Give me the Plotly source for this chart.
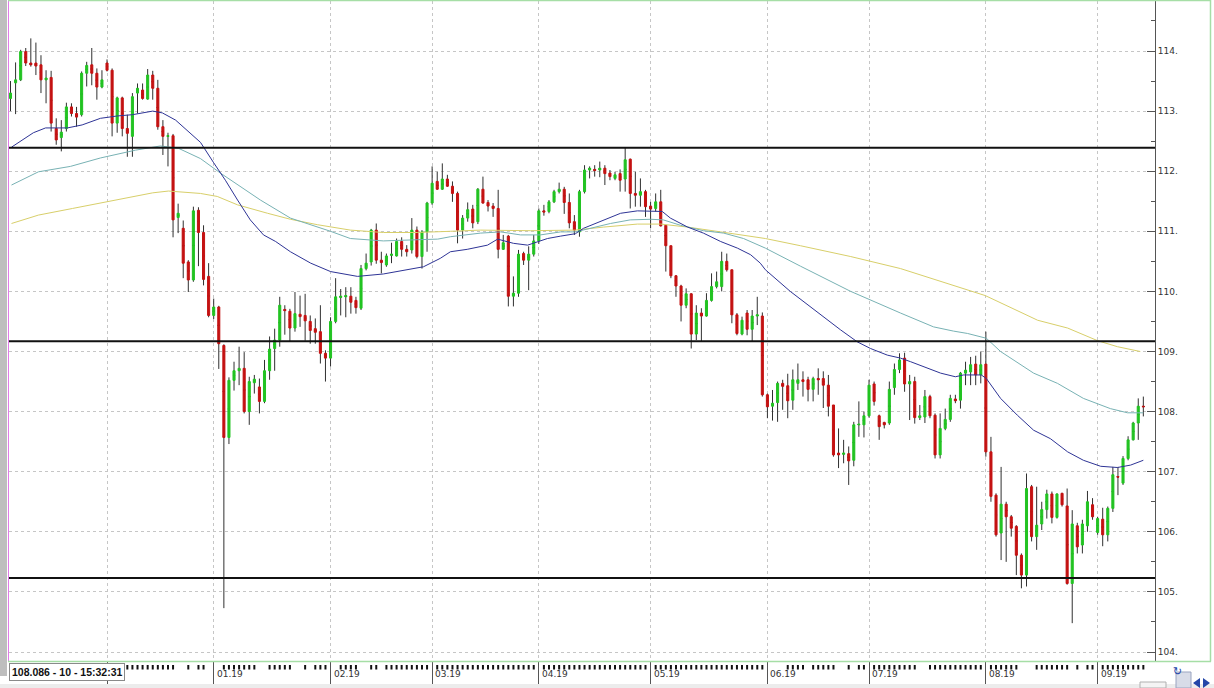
import plotly.graph_objects as go

# ---------------- data ----------------
ohlc = [
(113.21,113.50,113.00,113.30),(113.47,113.81,112.95,113.52),(113.52,114.02,113.50,113.99),(113.99,114.05,113.75,113.80),
(113.80,114.21,113.74,113.77),(113.80,114.14,113.60,113.75),(113.77,113.93,113.30,113.52),(113.52,113.68,113.13,113.55),
(113.56,113.67,112.66,112.80),(112.71,112.88,112.44,112.52),(112.56,112.85,112.33,112.65),(112.71,113.14,112.66,113.07),
(113.07,113.13,112.91,112.96),(112.96,113.07,112.74,112.90),(112.94,113.66,112.91,113.63),(113.63,113.82,113.41,113.76),
(113.77,114.05,113.43,113.63),(113.63,113.71,113.19,113.40),(113.40,113.68,113.38,113.52),(113.80,113.86,113.66,113.68),
(113.68,113.71,112.58,112.80),(112.80,113.24,112.64,113.22),(113.22,113.24,112.58,112.71),(112.71,112.94,112.24,112.63),
(112.58,113.30,112.24,113.24),(113.30,113.46,112.96,113.38),(113.35,113.46,113.19,113.21),(113.20,113.70,113.19,113.60),
(113.60,113.67,113.19,113.38),(113.38,113.52,112.69,112.74),(112.74,112.85,112.27,112.58),(112.58,112.64,112.08,112.59),
(112.59,112.62,110.90,111.19),(111.23,111.46,110.97,111.30),(111.05,111.18,110.22,110.47),(110.49,110.52,109.99,110.19),
(110.19,111.41,110.16,111.34),(111.35,111.40,110.42,110.98),(110.98,111.10,110.10,110.20),(110.25,110.47,109.57,109.60),
(109.60,109.88,109.54,109.74),(109.74,109.76,108.71,109.13),(109.10,109.12,104.73,107.57),(107.57,108.57,107.46,108.52),
(108.52,108.83,108.35,108.68),(108.68,109.08,108.44,108.72),(108.72,108.99,107.97,108.00),(108.00,108.58,107.78,108.50),
(108.48,108.61,108.30,108.54),(108.41,108.55,107.97,108.17),(108.17,108.86,108.14,108.68),(108.68,109.25,108.53,109.04),
(109.05,109.38,108.68,109.19),(109.19,109.91,109.08,109.77),(109.70,109.77,109.28,109.68),(109.67,109.71,109.16,109.39),
(109.39,109.99,109.33,109.63),(109.62,109.93,109.41,109.58),(109.60,109.96,109.18,109.51),(109.50,109.60,109.13,109.35),
(109.38,109.55,109.13,109.32),(109.33,109.77,108.80,108.97),(108.97,109.02,108.50,108.89),(108.89,109.57,108.75,109.50),
(109.50,110.22,109.47,109.91),(109.90,110.04,109.60,109.92),(109.91,110.07,109.57,109.93),(109.92,110.07,109.63,109.82),
(109.85,109.91,109.63,109.73),(109.72,110.44,109.69,110.38),(110.38,110.63,110.35,110.47),(110.49,111.04,110.43,111.02),
(111.02,111.13,110.46,110.52),(110.52,110.66,110.30,110.48),(110.44,110.63,110.41,110.59),(110.60,110.81,110.47,110.62),
(110.59,110.88,110.58,110.83),(110.83,110.90,110.58,110.70),(110.70,110.77,110.58,110.66),(110.69,111.22,110.63,111.02),
(111.02,111.08,110.55,110.58),(110.58,111.02,110.38,110.99),(110.99,111.49,110.66,111.47),(111.47,112.08,111.44,111.80),
(111.83,111.99,111.69,111.70),(111.70,112.13,111.69,111.87),(111.87,111.94,111.74,111.75),(111.75,111.83,111.49,111.63),
(111.63,111.66,110.80,111.02),(111.02,111.27,110.88,111.22),(111.22,111.48,111.16,111.36),(111.37,111.44,111.05,111.14),
(111.16,111.72,111.12,111.70),(111.70,111.91,111.46,111.47),(111.48,111.52,111.33,111.42),(111.42,111.47,111.24,111.38),
(111.38,111.69,110.55,110.70),(110.70,110.94,110.69,110.81),(110.92,110.94,109.75,109.92),(109.92,110.25,109.75,109.97),
(109.97,110.69,109.91,110.62),(110.63,110.66,110.44,110.52),(110.52,110.75,110.02,110.62),(110.62,110.94,110.58,110.84),
(110.84,111.38,110.79,111.34),(111.34,111.44,111.26,111.32),(111.33,111.52,111.30,111.49),(111.49,111.69,111.47,111.66),
(111.66,111.81,111.63,111.70),(111.70,111.74,111.29,111.48),(111.48,111.63,111.05,111.14),(111.16,111.27,110.94,111.02),
(110.99,111.69,110.91,111.66),(111.66,112.10,111.63,112.02),(112.02,112.08,111.88,112.05),(112.03,112.10,111.91,112.01),
(112.02,112.16,111.90,112.05),(112.05,112.10,111.77,111.96),(111.97,112.02,111.85,111.91),(111.88,111.99,111.85,111.94),
(111.96,112.03,111.66,111.85),(111.87,112.40,111.66,112.19),(112.20,112.21,111.38,111.63),(111.63,111.99,111.41,111.60),
(111.60,111.88,111.41,111.66),(111.66,111.69,111.24,111.41),(111.42,111.49,111.05,111.37),(111.38,111.63,111.33,111.49),
(111.49,111.69,111.08,111.09),(111.10,111.10,110.33,110.76),(110.76,110.76,110.22,110.26),(110.26,110.27,109.91,110.09),
(110.09,110.11,109.50,109.77),(109.77,110.05,109.72,109.96),(109.96,109.97,109.05,109.29),(109.29,109.77,109.19,109.64),
(109.64,109.72,109.16,109.59),(109.59,109.97,109.58,109.85),(109.85,110.30,109.83,110.08),(110.08,110.33,110.05,110.16),
(110.08,110.66,110.00,110.50),(110.50,110.63,110.33,110.36),(110.36,110.36,109.47,109.61),(109.61,109.64,109.27,109.30),
(109.29,109.58,109.27,109.52),(109.64,109.69,109.27,109.37),(109.37,109.69,109.16,109.59),(109.59,109.91,109.44,109.61),
(109.59,109.65,108.25,108.28),(108.28,108.30,107.89,108.08),(108.09,108.36,107.85,108.14),(108.15,108.50,107.83,108.47),
(108.47,108.53,108.03,108.42),(108.43,108.63,107.89,108.18),(108.19,108.70,108.03,108.53),(108.47,108.80,108.36,108.53),
(108.53,108.67,108.25,108.50),(108.53,108.58,108.17,108.37),(108.37,108.58,108.17,108.55),(108.55,108.72,108.28,108.53),
(108.55,108.67,108.06,108.44),(108.44,108.61,107.92,108.09),(108.11,108.11,107.25,107.28),(107.31,107.72,107.06,107.28),
(107.29,107.53,107.14,107.31),(107.30,107.42,106.78,107.18),(107.19,107.83,107.09,107.78),(107.78,108.17,107.58,107.79),
(107.78,108.00,107.57,107.93),(107.93,108.53,107.90,108.44),(108.46,108.50,108.10,108.17),(107.93,107.95,107.53,107.75),
(107.82,107.83,107.72,107.78),(107.81,108.50,107.78,108.37),(108.40,108.80,108.28,108.70),(108.70,108.97,108.64,108.86),
(108.89,108.98,108.33,108.46),(108.46,108.61,107.86,108.50),(108.50,108.58,107.80,107.90),(107.90,108.11,107.86,107.93),
(107.91,108.36,107.81,108.25),(108.25,108.28,107.89,107.93),(107.94,107.97,107.22,107.28),(107.28,107.97,107.22,107.72),
(107.72,108.05,107.69,107.87),(107.87,108.28,107.83,108.22),(108.21,108.28,108.14,108.18),(108.19,108.66,108.05,108.64),
(108.64,108.83,108.44,108.69),(108.66,108.91,108.44,108.78),(108.79,108.93,108.44,108.61),(108.61,109.00,108.47,108.78),
(108.79,109.33,107.25,107.33),(107.33,107.58,106.50,106.59),(106.61,106.64,105.92,105.95),(105.98,107.08,105.53,106.46),
(106.46,106.50,105.50,106.25),(106.25,106.28,105.92,106.06),(106.09,106.11,105.28,105.61),(105.61,105.64,105.06,105.28),
(105.28,106.97,105.09,106.72),(106.75,106.78,105.84,105.92),(105.92,106.75,105.70,106.11),(106.13,106.50,106.03,106.37),
(106.37,106.70,106.22,106.63),(106.63,106.67,106.14,106.24),(106.24,106.64,106.22,106.63),(106.64,106.65,106.42,106.45),
(106.43,106.72,105.12,105.14),(105.14,106.36,104.48,106.13),(106.10,106.15,105.64,105.75),(105.78,106.20,105.64,106.13),
(106.10,106.68,106.00,106.50),(106.45,106.56,106.20,106.25),(105.99,106.25,105.95,106.22),(106.21,106.40,105.76,105.95),
(105.95,106.42,105.84,106.39),(106.39,107.08,106.33,106.95),(106.92,107.08,106.61,106.91),(106.81,107.26,106.78,107.22),
(107.22,107.59,107.19,107.53),(107.53,107.83,107.52,107.81),(107.81,108.22,107.53,108.09),(108.09,108.25,107.92,108.08),
]
opens = [r[0] for r in ohlc]
highs = [r[1] for r in ohlc]
lows = [r[2] for r in ohlc]
closes = [r[3] for r in ohlc]
bars = list(range(len(ohlc)))

# moving averages (bar position, value)
ma_fast_x = [0.2,4.5,6.9,11.2,14.1,17.7,21.1,24.0,28.0,29.9,32.5,35.0,37.4,40.0,42.3,44.7,47.2,49.8,52.2,55.1,59.1,63.0,68.3,73.4,78.1,81.3,84.6,86.6,89.9,93.9,95.9,99.0,101.8,105.7,108.3,111.2,112.8,116.7,120.1,123.4,126.6,128.3,129.9,133.3,136.4,139.8,143.1,145.7,147.6,148.6,153.5,158.5,163.4,166.7,169.3,172.6,175.2,177.2,180.5,183.1,186.0,187.6,191.1,192.1,194.9,198.2,201.4,204.7,208.1,211.2,214.6,217.9,220.5,223.0]
ma_fast_y = [112.40,112.64,112.72,112.72,112.77,112.88,112.92,112.94,113.00,112.97,112.85,112.66,112.48,112.14,111.85,111.52,111.19,110.94,110.83,110.66,110.47,110.33,110.25,110.29,110.36,110.41,110.55,110.66,110.70,110.77,110.87,110.80,110.77,110.88,110.92,110.96,111.05,111.19,111.30,111.34,111.34,111.33,111.22,111.07,110.97,110.83,110.72,110.61,110.47,110.36,110.00,109.67,109.36,109.16,109.05,108.94,108.89,108.83,108.72,108.64,108.58,108.61,108.61,108.55,108.22,107.94,107.69,107.55,107.33,107.19,107.09,107.07,107.11,107.19]
ma_mid_x = [0.2,5.5,11.8,17.7,24.6,29.5,33.1,37.4,41.3,45.3,49.2,55.1,59.1,63.0,66.9,73.4,80.1,84.1,86.6,92.5,96.5,100.4,104.3,108.3,111.2,114.2,118.1,122.0,126.0,128.5,131.9,136.4,140.4,144.3,148.6,155.5,165.4,175.2,181.7,185.6,188.4,192.1,194.9,201.4,206.1,211.2,216.5,219.9,223.0]
ma_mid_y = [111.77,111.99,112.08,112.22,112.35,112.42,112.38,112.21,111.97,111.74,111.52,111.22,111.11,111.00,110.88,110.84,110.86,110.87,110.91,110.97,110.99,110.94,110.94,110.99,110.99,111.05,111.13,111.19,111.20,111.19,111.10,111.01,110.97,110.88,110.72,110.42,110.00,109.64,109.41,109.34,109.30,109.22,109.00,108.64,108.47,108.22,108.05,107.98,107.98]
ma_slow_x = [0.2,5.5,12.2,18.7,24.0,28.0,31.1,34.4,37.4,40.7,44.7,50.6,55.1,60.4,66.9,73.4,80.1,86.6,92.5,102.4,111.2,116.7,123.4,128.0,133.3,139.8,148.6,155.5,165.4,175.2,185.0,191.9,202.2,208.1,214.0,217.9,222.4]
ma_slow_y = [111.13,111.27,111.38,111.49,111.58,111.64,111.67,111.65,111.63,111.58,111.44,111.30,111.20,111.11,111.02,110.98,110.98,111.00,111.02,111.01,111.02,111.07,111.12,111.12,111.07,110.99,110.88,110.76,110.58,110.38,110.12,109.93,109.52,109.39,109.18,109.08,109.00]

levels = [112.39, 109.17, 105.23]
month_bars = [19, 40, 63, 83, 104, 126, 149, 169, 192, 214]
month_labels = ["12.18", "01.19", "02.19", "03.19", "04.19", "05.19", "06.19", "07.19", "08.19", "09.19"]
# runs of bars that carry a small mark on the time scale (first, last)
time_mark_runs = [(0, 32), (35, 35), (37, 38), (42, 48), (51, 55), (58, 58), (60, 62), (65, 68), (71, 72),
                  (74, 82), (84, 96), (97, 103), (105, 125), (127, 136), (137, 148), (153, 156), (158, 162),
                  (165, 165), (167, 168), (170, 178), (181, 191), (193, 198), (202, 202), (203, 208),
                  (210, 210), (212, 213), (215, 223)]
price_ticks = [104, 105, 106, 107, 108, 109, 110, 111, 112, 113, 114]
price_labels = [f"{p}." for p in price_ticks]
status_text = "108.086 - 10 - 15:32:31"

# ---------------- geometry ----------------
W, H = 1214, 688
L, R, T, B = 9, 59, 1, 27
PW, PH = W - L - R, H - T - B
X0 = -0.295
X1 = X0 + PW / 5.08
Y1 = 114.832
Y0 = Y1 - PH / 60.1

def px(xp):
    return (xp - L) / PW

def py(yp):
    return (H - B - yp) / PH

GREEN = "#22c322"
RED = "#c41212"
WICK = "#303030"

fig = go.Figure()

mids = [(o + c) / 2 for o, c in zip(opens, closes)]
fig.add_trace(go.Candlestick(
    x=bars, open=mids, high=highs, low=lows, close=mids,
    increasing=dict(line=dict(color=WICK, width=1), fillcolor=WICK),
    decreasing=dict(line=dict(color=WICK, width=1), fillcolor=WICK),
    whiskerwidth=0, hoverinfo="skip", showlegend=False))

body_hi = [max(o, c) for o, c in zip(opens, closes)]
body_lo = [min(o, c) for o, c in zip(opens, closes)]
fig.add_trace(go.Candlestick(
    x=bars, open=opens, high=body_hi, low=body_lo, close=closes,
    increasing=dict(line=dict(color=GREEN, width=1), fillcolor=GREEN),
    decreasing=dict(line=dict(color=RED, width=1), fillcolor=RED),
    whiskerwidth=0, hoverinfo="skip", showlegend=False))

fig.add_trace(go.Scatter(x=ma_slow_x, y=ma_slow_y, mode="lines",
                         line=dict(color="#d8cf6a", width=1), showlegend=False, hoverinfo="skip"))
fig.add_trace(go.Scatter(x=ma_mid_x, y=ma_mid_y, mode="lines",
                         line=dict(color="#78b2b4", width=1), showlegend=False, hoverinfo="skip"))
fig.add_trace(go.Scatter(x=ma_fast_x, y=ma_fast_y, mode="lines",
                         line=dict(color="#2e3496", width=1), showlegend=False, hoverinfo="skip"))

shapes = []
for lv in levels:
    shapes.append(dict(type="line", xref="paper", yref="y", x0=0, x1=1, y0=lv, y1=lv,
                       line=dict(color="#111111", width=2)))
# small per-bar marks on the time scale
for a, b in time_mark_runs:
    for i in range(a, b + 1):
        shapes.append(dict(type="line", xref="x", yref="paper", x0=i, x1=i, y0=py(665), y1=py(669.5),
                           line=dict(color="#111111", width=2)))
# frame / window chrome
shapes += [
    dict(type="rect", xref="paper", yref="paper", x0=px(0), x1=px(7), y0=py(676), y1=py(0),
         fillcolor="#bebebe", line=dict(width=0), layer="below"),
    dict(type="line", xref="paper", yref="paper", x0=px(8.5), x1=px(8.5), y0=py(661), y1=py(0),
         line=dict(color="#e07ae8", width=1)),
    dict(type="line", xref="paper", yref="paper", x0=px(8), x1=px(1211), y0=py(0.5), y1=py(0.5),
         line=dict(color="#a6dea6", width=1.5)),
    dict(type="line", xref="paper", yref="paper", x0=px(1210.5), x1=px(1210.5), y0=py(661.5), y1=py(0),
         line=dict(color="#a6dea6", width=1.5)),
    dict(type="line", xref="paper", yref="paper", x0=px(8), x1=px(1211), y0=py(661.5), y1=py(661.5),
         line=dict(color="#a6dea6", width=1.5)),
    dict(type="rect", xref="paper", yref="paper", x0=px(0), x1=px(1214), y0=py(688), y1=py(684),
         fillcolor="#ececec", line=dict(width=0)),
    dict(type="rect", xref="paper", yref="paper", x0=px(1140), x1=px(1166), y0=py(688), y1=py(682),
         fillcolor="#f4f4f4", line=dict(color="#b0b0b0", width=1)),
    dict(type="rect", xref="paper", yref="paper", x0=px(1176), x1=px(1191), y0=py(688), y1=py(672),
         fillcolor="#d8dce8", line=dict(color="#9aa4c0", width=1)),
    dict(type="path", xref="paper", yref="paper",
         path=f"M {px(1200)} {py(678)} L {px(1193)} {py(683)} L {px(1200)} {py(688)} Z",
         fillcolor="#2346a8", line=dict(width=0)),
    dict(type="path", xref="paper", yref="paper",
         path=f"M {px(1203)} {py(678)} L {px(1210)} {py(683)} L {px(1203)} {py(688)} Z",
         fillcolor="#2346a8", line=dict(width=0)),
]

annotations = []
for b, lab in zip(month_bars[1:], month_labels[1:]):
    annotations.append(dict(x=b, xref="x", y=py(667), yref="paper", text=lab, showarrow=False,
                            xanchor="left", yanchor="top", xshift=1,
                            font=dict(family="DejaVu Sans", size=9, color="#333333")))
annotations.append(dict(x=px(9), xref="paper", y=py(663), yref="paper", text=f"<b>{status_text}</b>",
                        showarrow=False, xanchor="left", yanchor="top",
                        bgcolor="#ffffff", bordercolor="#8a8a8a", borderwidth=1, borderpad=2,
                        font=dict(family="Liberation Sans", size=10.5, color="#111111")))
annotations.append(dict(x=px(1183.5), xref="paper", y=py(680), yref="paper", text="↻", showarrow=False,
                        font=dict(family="DejaVu Sans", size=11, color="#2346a8")))

fig.update_layout(
    width=W, height=H,
    margin=dict(l=L, r=R, t=T, b=B),
    paper_bgcolor="#ffffff", plot_bgcolor="#ffffff",
    boxgap=0.42,
    hovermode=False,
    showlegend=False,
    shapes=shapes,
    annotations=annotations,
    xaxis=dict(
        type="linear", range=[X0, X1], rangeslider=dict(visible=False),
        tickmode="array", tickvals=month_bars, showticklabels=False,
        ticks="outside", ticklen=24, tickwidth=1, tickcolor="#555555",
        showgrid=True, gridcolor="#c6c6c6", griddash="3px,3px", gridwidth=1,
        zeroline=False, showline=False, fixedrange=True,
    ),
    yaxis=dict(
        side="right", range=[Y0, Y1],
        tickmode="array", tickvals=price_ticks, ticktext=price_labels,
        ticks="inside", ticklen=8, tickwidth=1, tickcolor="#555555",
        showline=True, linecolor="#555555", linewidth=1,
        showgrid=True, gridcolor="#c6c6c6", griddash="3px,3px", gridwidth=1,
        zeroline=False, fixedrange=True,
        tickfont=dict(family="DejaVu Sans", size=9, color="#333333"),
        minor=dict(tickmode="array", tickvals=[p + 0.5 for p in price_ticks[:-1]] + [114.5],
                   ticks="inside", ticklen=4, tickcolor="#555555", showgrid=False),
    ),
)

fig.write_html("out.html")
